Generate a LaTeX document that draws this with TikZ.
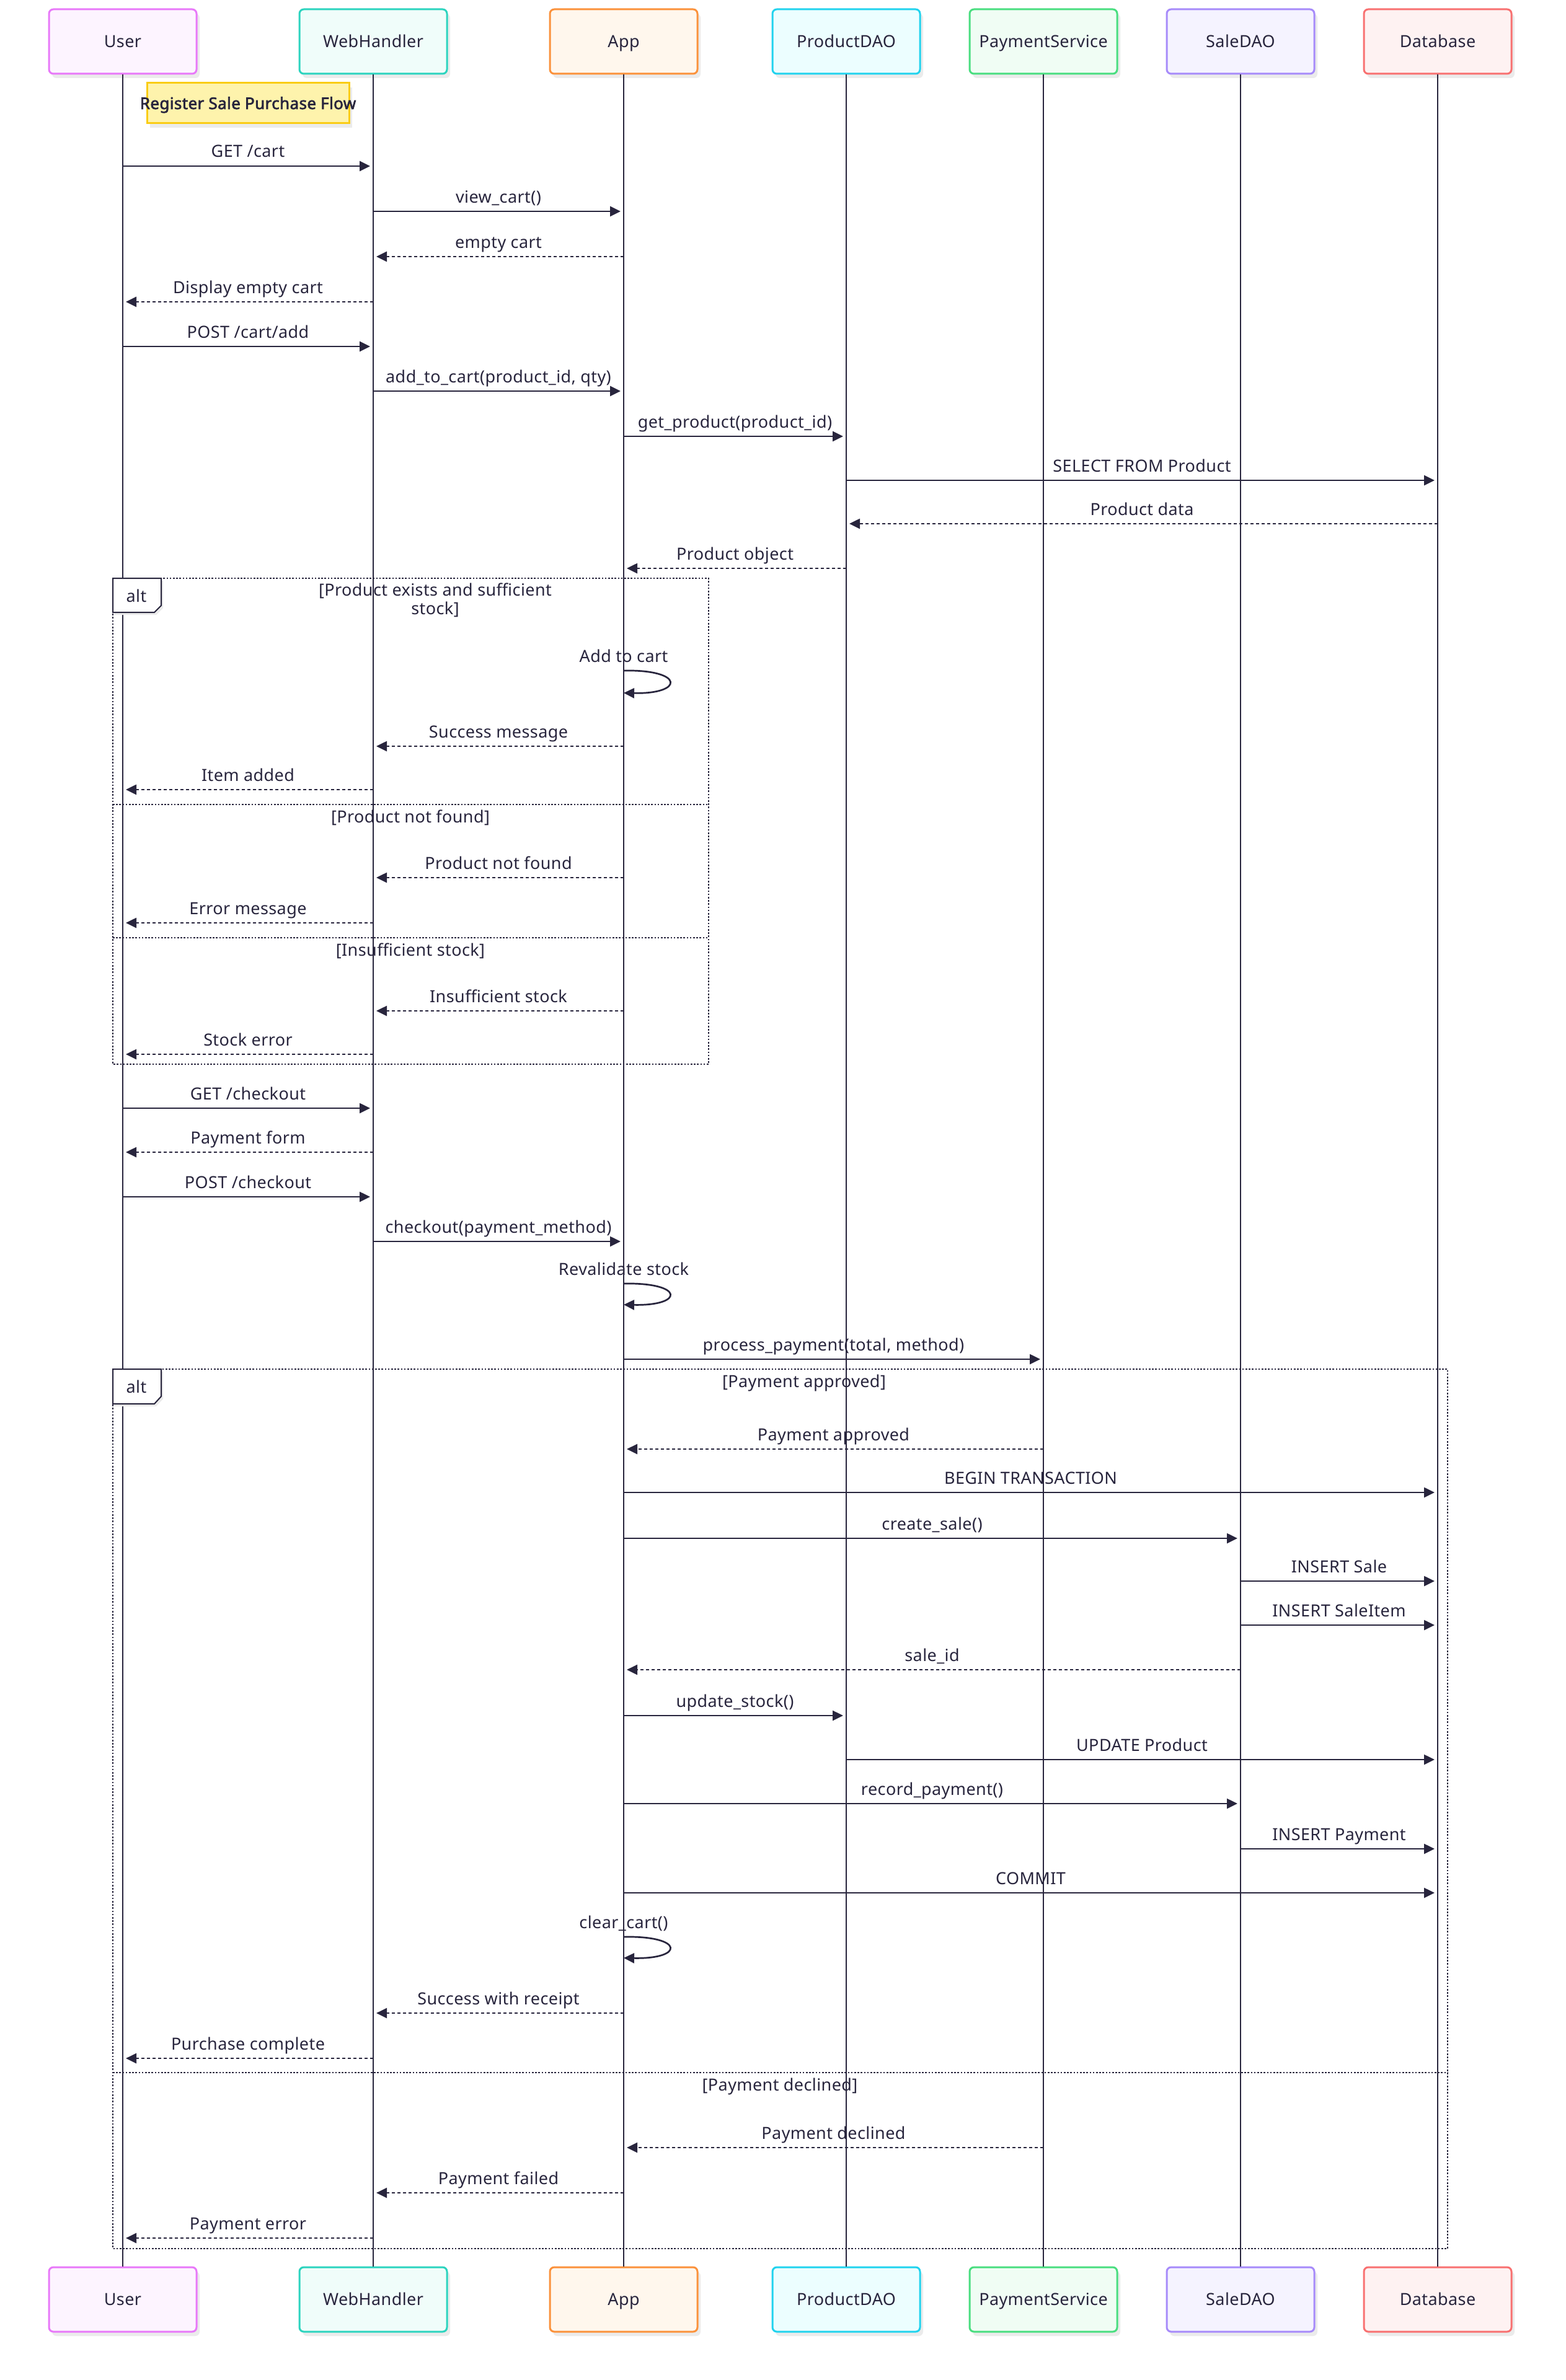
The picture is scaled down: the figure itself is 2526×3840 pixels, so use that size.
\documentclass[tikz,border=0pt]{standalone}
\usepackage{fontspec}
\setmainfont{Noto Sans}[LetterSpace=1.5]
\newfontfamily\notefont{Noto Sans}[FakeBold=2.5, LetterSpace=1.5]
\usetikzlibrary{arrows.meta,shadows,calc}

\definecolor{ink}{HTML}{28253D}
\definecolor{userline}{HTML}{E879F9}\definecolor{userfill}{HTML}{FDF4FF}
\definecolor{webline}{HTML}{2DD4BF}\definecolor{webfill}{HTML}{F0FDFA}
\definecolor{appline}{HTML}{FB923C}\definecolor{appfill}{HTML}{FFF7ED}
\definecolor{pdaoline}{HTML}{22D3EE}\definecolor{pdaofill}{HTML}{ECFEFF}
\definecolor{payline}{HTML}{4ADE80}\definecolor{payfill}{HTML}{F0FDF4}
\definecolor{saleline}{HTML}{A78BFA}\definecolor{salefill}{HTML}{F5F3FF}
\definecolor{dbline}{HTML}{F87171}\definecolor{dbfill}{HTML}{FEF2F2}
\definecolor{noteline}{HTML}{FACC15}\definecolor{notefill}{HTML}{FEF3AC}

% message helpers: solid call, dashed reply, self call
\newcommand\callmsg[4]{%
  \coordinate (y#3) at (0,#3);
  \draw[call] (#1 |- y#3) -- node[msglabel]{#4} (#2 |- y#3);}
\newcommand\replymsg[4]{%
  \coordinate (y#3) at (0,#3);
  \draw[reply] (#1 |- y#3) -- node[msglabel]{#4} (#2 |- y#3);}
\newcommand\selfcall[4]{%
  \coordinate (y#2) at (0,#2);
  \coordinate (y#3) at (0,#3);
  \draw[selfloop] (#1 |- y#2) .. controls +(98,-2) and +(98,2) .. (#1 |- y#3);
  \node[msglabel] at (#1 |- y#2) {#4};}

\begin{document}
\begin{tikzpicture}[x=1pt,y=-1pt,
  every node/.style={font=\fontsize{27}{30}\selectfont, text=ink},
  actor/.style={draw, line width=3pt, rounded corners=7pt,
    minimum width=238pt, minimum height=104pt, inner sep=0pt,
    text height=19pt, text depth=0pt,
    drop shadow={shadow xshift=5pt, shadow yshift=-7pt, fill=black!8, opacity=1}},
  lifeline/.style={draw=ink, line width=2.4pt},
  call/.style={draw=ink, line width=2.7pt, shorten >=5pt,
    -{Triangle[length=17pt,width=16pt]}},
  reply/.style={call, dash pattern=on 5pt off 4pt},
  selfloop/.style={draw=ink, line width=2.7pt, -{Triangle[length=17pt,width=16pt]}},
  msglabel/.style={anchor=base, yshift=14pt, inner sep=0pt},
  altframe/.style={draw=ink, line width=2.5pt, dash pattern=on 2.6pt off 2.6pt},
  alttag/.style={draw=ink, line width=2pt, fill=white,
    drop shadow={shadow xshift=3pt, shadow yshift=-4pt, fill=black!8, opacity=1}},
  guard/.style={anchor=base, inner sep=0pt, align=center},
]
\useasboundingbox[fill=white] (0,0) rectangle (2526,3840);

% participants, top and bottom
\begin{scope}
\node[actor, draw=userline, fill=userfill] (User) at (198,67) {User};
\node[actor, draw=webline, fill=webfill] (WebHandler) at (602,67) {WebHandler};
\node[actor, draw=appline, fill=appfill] (App) at (1006,67) {App};
\node[actor, draw=pdaoline, fill=pdaofill] (ProductDAO) at (1365,67) {ProductDAO};
\node[actor, draw=payline, fill=payfill] (PaymentService) at (1683,67) {PaymentService};
\node[actor, draw=saleline, fill=salefill] (SaleDAO) at (2001,67) {SaleDAO};
\node[actor, draw=dbline, fill=dbfill] (Database) at (2319,67) {Database};
\node[actor, draw=userline, fill=userfill] (UserB) at (198,3710) {User};
\node[actor, draw=webline, fill=webfill] (WebHandlerB) at (602,3710) {WebHandler};
\node[actor, draw=appline, fill=appfill] (AppB) at (1006,3710) {App};
\node[actor, draw=pdaoline, fill=pdaofill] (ProductDAOB) at (1365,3710) {ProductDAO};
\node[actor, draw=payline, fill=payfill] (PaymentServiceB) at (1683,3710) {PaymentService};
\node[actor, draw=saleline, fill=salefill] (SaleDAOB) at (2001,3710) {SaleDAO};
\node[actor, draw=dbline, fill=dbfill] (DatabaseB) at (2319,3710) {Database};
\end{scope}

% lifelines
\foreach \p in {User,WebHandler,App,ProductDAO,PaymentService,SaleDAO,Database}
  \draw[lifeline] (\p.south) -- (\p B.north);

% title note
\node[draw=noteline, fill=notefill, line width=3pt, minimum width=326pt, minimum height=65pt,
  drop shadow={shadow xshift=5pt, shadow yshift=-7pt, fill=black!8, opacity=1}] (note) at (400,166.5) {};
\node[font=\fontsize{26}{30}\notefont, text height=19pt, text depth=0pt, inner sep=0pt]
  (notetitle) at (note.center) {Register Sale Purchase Flow};

% alt block: add to cart outcomes
\draw[altframe] (182,933) rectangle (1143,1717);
\draw[altframe] (182,1298) -- (1143,1298);
\draw[altframe] (182,1513) -- (1143,1513);
\draw[alttag] (182,933) -- (260,933) -- (260,977) -- (249,988) -- (182,988) -- cycle;
\node[guard] (alt1tag) at (220,971) {alt};
\node[guard] (alt1g1) at (702,991) {[Product exists and sufficient\\stock]};
\node[guard] (alt1g2) at (662,1327) {[Product not found]};
\node[guard] (alt1g3) at (662,1542) {[Insufficient stock]};

% alt block: payment outcomes
\draw[altframe] (182,2209) rectangle (2335,3628);
\draw[altframe] (182,3344) -- (2335,3344);
\draw[alttag] (182,2209) -- (260,2209) -- (260,2253) -- (249,2265) -- (182,2265) -- cycle;
\node[guard] (alt2tag) at (220,2247) {alt};
\node[guard] (alt2g1) at (1297,2238) {[Payment approved]};
\node[guard] (alt2g2) at (1258,3373) {[Payment declined]};

% messages
\callmsg{User}{WebHandler}{268}{GET /cart}
\callmsg{WebHandler}{App}{341}{view\_cart()}
\replymsg{App}{WebHandler}{414}{empty cart}
\replymsg{WebHandler}{User}{487}{Display empty cart}
\callmsg{User}{WebHandler}{559}{POST /cart/add}
\callmsg{WebHandler}{App}{631}{add\_to\_cart(product\_id, qty)}
\callmsg{App}{ProductDAO}{704}{get\_product(product\_id)}
\callmsg{ProductDAO}{Database}{775}{SELECT FROM Product}
\replymsg{Database}{ProductDAO}{845}{Product data}
\replymsg{ProductDAO}{App}{917}{Product object}
\selfcall{App}{1082}{1118}{Add to cart}
\replymsg{App}{WebHandler}{1204}{Success message}
\replymsg{WebHandler}{User}{1274}{Item added}
\replymsg{App}{WebHandler}{1416}{Product not found}
\replymsg{WebHandler}{User}{1489}{Error message}
\replymsg{App}{WebHandler}{1631}{Insufficient stock}
\replymsg{WebHandler}{User}{1701}{Stock error}
\callmsg{User}{WebHandler}{1788}{GET /checkout}
\replymsg{WebHandler}{User}{1859}{Payment form}
\callmsg{User}{WebHandler}{1931}{POST /checkout}
\callmsg{WebHandler}{App}{2003}{checkout(payment\_method)}
\selfcall{App}{2071}{2105}{Revalidate stock}
\callmsg{App}{PaymentService}{2193}{process\_payment(total, method)}
\replymsg{PaymentService}{App}{2338}{Payment approved}
\callmsg{App}{Database}{2408}{BEGIN TRANSACTION}
\callmsg{App}{SaleDAO}{2482}{create\_sale()}
\callmsg{SaleDAO}{Database}{2551}{INSERT Sale}
\callmsg{SaleDAO}{Database}{2622}{INSERT SaleItem}
\replymsg{SaleDAO}{App}{2694}{sale\_id}
\callmsg{App}{ProductDAO}{2768}{update\_stock()}
\callmsg{ProductDAO}{Database}{2839}{UPDATE Product}
\callmsg{App}{SaleDAO}{2910}{record\_payment()}
\callmsg{SaleDAO}{Database}{2983}{INSERT Payment}
\callmsg{App}{Database}{3054}{COMMIT}
\selfcall{App}{3125}{3159}{clear\_cart()}
\replymsg{App}{WebHandler}{3248}{Success with receipt}
\replymsg{WebHandler}{User}{3321}{Purchase complete}
\replymsg{PaymentService}{App}{3465}{Payment declined}
\replymsg{App}{WebHandler}{3538}{Payment failed}
\replymsg{WebHandler}{User}{3611}{Payment error}
\end{tikzpicture}
\end{document}
